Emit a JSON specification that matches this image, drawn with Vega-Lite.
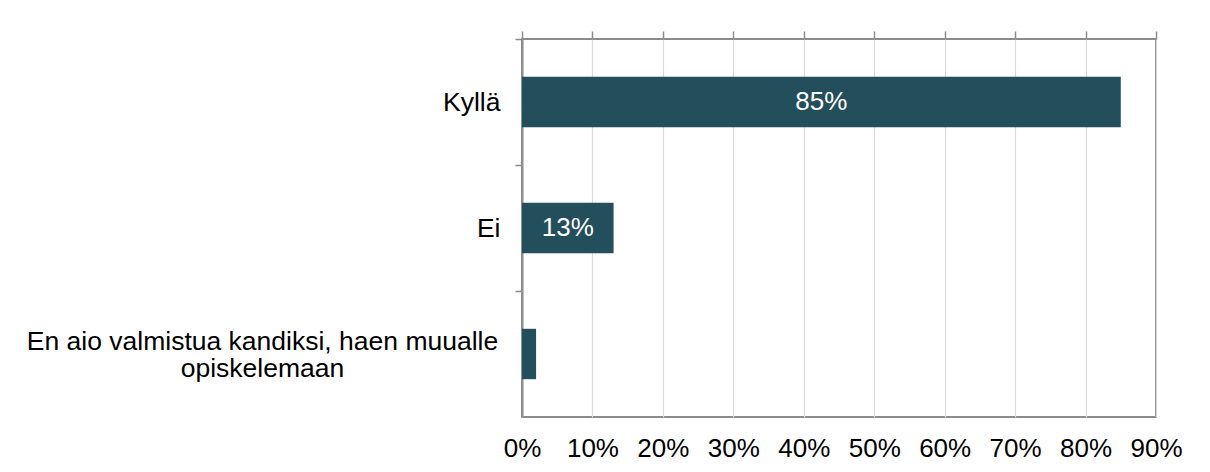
{
  "$schema": "https://vega.github.io/schema/vega-lite/v6.json",
  "autosize": {"type": "none"},
  "padding": {"left": 522, "top": 39, "right": 54, "bottom": 55},
  "width": 634,
  "height": 378,
  "background": "#ffffff",
  "config": {
    "font": "Liberation Sans",
    "view": {"stroke": "#8c8c8c", "strokeWidth": 2}
  },
  "data": {
    "values": [
      {"vastaus": "Kyllä", "osuus": 0.85},
      {"vastaus": "Ei", "osuus": 0.13},
      {"vastaus": "En aio valmistua kandiksi, haen muualle opiskelemaan", "osuus": 0.02}
    ]
  },
  "encoding": {
    "y": {
      "field": "vastaus",
      "type": "nominal",
      "sort": null,
      "scale": {"paddingInner": 0.6, "paddingOuter": 0.3},
      "axis": {
        "title": null,
        "ticks": true,
        "tickSize": 7,
        "tickColor": "#8c8c8c",
        "tickWidth": 1.5,
        "tickOffset": -63,
        "labelOffset": {"condition": {"test": "length(datum.value) > 20", "value": 50}, "value": 63},
        "domain": true,
        "domainColor": "#8c8c8c",
        "domainWidth": 2,
        "labelFontSize": 26.5,
        "labelColor": "#000000",
        "labelLimit": 600,
        "labelLineHeight": 27,
        "labelExpr": "split(replace(datum.value, 'muualle ', 'muualle|'), '|')",
        "labelAlign": {"condition": {"test": "length(datum.value) > 20", "value": "center"}, "value": "right"},
        "labelPadding": {"condition": {"test": "length(datum.value) > 20", "value": 253}, "value": 15}
      }
    }
  },
  "layer": [
    {
      "mark": {"type": "bar", "color": "#234e5b"},
      "encoding": {
        "x": {
          "field": "osuus",
          "type": "quantitative",
          "scale": {"domain": [0, 0.9]},
          "axis": {
            "orient": "bottom",
            "title": null,
            "values": [0, 0.1, 0.2, 0.3, 0.4, 0.5, 0.6, 0.7, 0.8, 0.9],
            "format": ".0%",
            "ticks": false,
            "domain": false,
            "grid": true,
            "gridColor": "#d9d9d9",
            "gridWidth": 1.2,
            "labelFontSize": 26,
            "labelColor": "#000000",
            "labelPadding": 18,
            "labelFlush": false,
            "labelOverlap": false
          }
        }
      }
    },
    {
      "transform": [{"filter": "datum.osuus > 0.05"}],
      "mark": {"type": "text", "color": "#ffffff", "fontSize": 26, "align": "center", "baseline": "middle"},
      "encoding": {
        "x": {
          "field": "osuus",
          "type": "quantitative",
          "scale": {"domain": [0, 1.8]},
          "axis": {
            "orient": "top",
            "title": null,
            "values": [0, 0.2, 0.4, 0.6, 0.8, 1.0, 1.2, 1.4, 1.6, 1.8],
            "labels": false,
            "grid": false,
            "domain": false,
            "ticks": true,
            "tickSize": 8,
            "tickColor": "#8c8c8c",
            "tickWidth": 1.5
          }
        },
        "text": {"field": "osuus", "type": "quantitative", "format": ".0%"}
      }
    }
  ],
  "resolve": {"scale": {"x": "independent"}, "axis": {"x": "independent"}}
}
